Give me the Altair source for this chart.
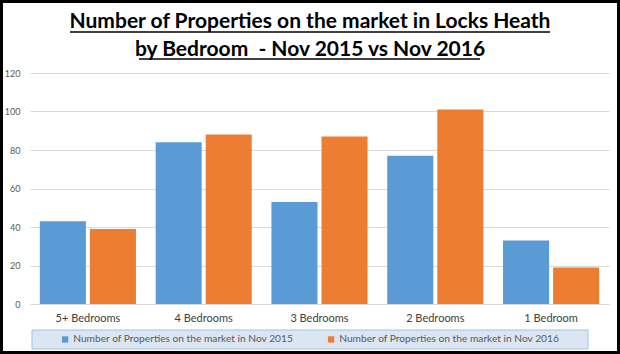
import altair as alt
import pandas as pd

categories = ["5+ Bedrooms", "4 Bedrooms", "3 Bedrooms", "2 Bedrooms", "1 Bedroom"]
series_names = [
    "Number of Properties on the market in Nov 2015",
    "Number of Properties on the market in Nov 2016",
]
values_2015 = [43, 84, 53, 77, 33]
values_2016 = [39, 88, 87, 101, 19]
y_ticks = [0, 20, 40, 60, 80, 100, 120]
title_lines = [
    "Number of Properties on the market in Locks Heath",
    "by Bedroom  - Nov 2015 vs Nov 2016",
]
colors = ["#5B9BD5", "#ED7D31"]

rows = []
for c, a, b in zip(categories, values_2015, values_2016):
    rows.append({"Bedrooms": c, "Series": series_names[0], "Count": a})
    rows.append({"Bedrooms": c, "Series": series_names[1], "Count": b})
df = pd.DataFrame(rows)

FONT = "Lato"
W, H = 579, 231
PAD = {"left": 30, "top": 73, "right": 11, "bottom": 50}

one = pd.DataFrame({"k": [0]})

frame = alt.Chart(one).mark_rect(fillOpacity=0, stroke="black", strokeWidth=3).encode(
    x=alt.value(-PAD["left"] + 1.5), x2=alt.value(W + PAD["right"] - 1.5),
    y=alt.value(-PAD["top"] + 1.5), y2=alt.value(H + PAD["bottom"] - 1.5),
)

legend_box = alt.Chart(one).mark_rect(fill="#DCE6F2", stroke="#9DC3E6", strokeWidth=1).encode(
    x=alt.value(2), x2=alt.value(558), y=alt.value(257), y2=alt.value(276),
)

bars = alt.Chart(df).mark_bar().encode(
    x=alt.X("Bedrooms:N", sort=categories, title=None,
            scale=alt.Scale(paddingInner=0.17, paddingOuter=0.085),
            axis=alt.Axis(labelAngle=0, labelFontSize=11, labelColor="#404040",
                          labelFont=FONT, labelPadding=8, ticks=False,
                          domainColor="#D9D9D9", grid=False)),
    xOffset=alt.XOffset("Series:N", sort=series_names,
                        scale=alt.Scale(paddingInner=0.08, paddingOuter=0)),
    y=alt.Y("Count:Q", title=None, scale=alt.Scale(domain=[0, 120]),
            axis=alt.Axis(values=y_ticks, domain=False, ticks=False,
                          gridColor="#D9D9D9", labelFontSize=9,
                          labelColor="#595959", labelFont=FONT, labelPadding=10)),
    color=alt.Color("Series:N", sort=series_names,
                    scale=alt.Scale(domain=series_names, range=colors),
                    legend=alt.Legend(title=None, orient="none", legendX=30, legendY=261,
                                      direction="horizontal", symbolType="square",
                                      symbolSize=40, symbolStrokeWidth=0,
                                      labelFontSize=10.2, labelColor="#595959",
                                      labelFont=FONT, columnPadding=32, labelLimit=400,
                                      labelOffset=3, padding=0)),
)

title_style = dict(font=FONT, fontSize=21, fontWeight="bold",
                   align="center", baseline="alphabetic", color="black")
title1 = alt.Chart(one).mark_text(**title_style).encode(
    x=alt.value(280), y=alt.value(-45), text=alt.value(title_lines[0]))
title2 = alt.Chart(one).mark_text(**title_style).encode(
    x=alt.value(280), y=alt.value(-17),
    text=alt.value(title_lines[1].replace("  ", " \u00a0")))
ul1 = alt.Chart(one).mark_rule(color="black", strokeWidth=1.5).encode(
    x=alt.value(40), x2=alt.value(520), y=alt.value(-41))
ul2 = alt.Chart(one).mark_rule(color="black", strokeWidth=1.5).encode(
    x=alt.value(109), x2=alt.value(450), y=alt.value(-14))

chart = alt.layer(frame, legend_box, bars, title1, title2, ul1, ul2).properties(
    width=W, height=H, padding=PAD, autosize="none", background="white",
).configure_view(stroke=None)

chart.save("out.html", embed_options={"renderer": "svg", "actions": False})
